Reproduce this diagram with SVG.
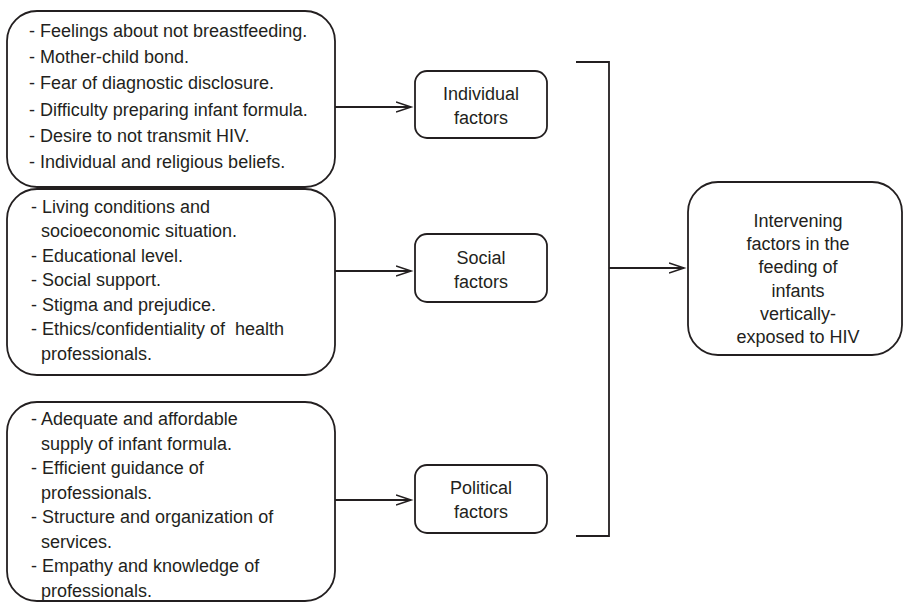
<svg xmlns="http://www.w3.org/2000/svg" width="904" height="603" viewBox="0 0 904 603">
<defs>
<marker id="arr" markerWidth="18" markerHeight="12" refX="15" refY="6" orient="auto" markerUnits="userSpaceOnUse">
<path d="M0,1 L15,6 L0,11" fill="none" stroke="#231f20" stroke-width="1.6"/>
</marker>
</defs>
<style>
.box{fill:#fff;stroke:#231f20;stroke-width:1.8}
.t{font-family:"Liberation Sans",Arial,sans-serif;font-size:18px;fill:#231f20}
.c{text-anchor:middle}
.ln{fill:none;stroke:#231f20;stroke-width:1.8}
.pre{white-space:pre}
</style>
<rect width="904" height="603" fill="#fff"/>
<g id="list-individual">
<rect class="box" x="7" y="11" width="328" height="176" rx="30"/>
<text class="t" x="29" y="37">- Feelings about not breastfeeding.</text>
<text class="t" x="29" y="63">- Mother-child bond.</text>
<text class="t" x="29" y="89">- Fear of diagnostic disclosure.</text>
<text class="t" x="29" y="116">- Difficulty preparing infant formula.</text>
<text class="t" x="29" y="142">- Desire to not transmit HIV.</text>
<text class="t" x="29" y="168">- Individual and religious beliefs.</text>
</g>
<g id="list-social">
<rect class="box" x="7" y="189" width="328" height="186" rx="30"/>
<text class="t" x="31" y="213">- Living conditions and</text>
<text class="t" x="41" y="237">socioeconomic situation.</text>
<text class="t" x="31" y="262">- Educational level.</text>
<text class="t" x="31" y="286">- Social support.</text>
<text class="t" x="31" y="311">- Stigma and prejudice.</text>
<text class="t pre" x="31" y="335" xml:space="preserve">- Ethics/confidentiality of  health</text>
<text class="t" x="41" y="360">professionals.</text>
</g>
<g id="list-political">
<rect class="box" x="7" y="402" width="328" height="199" rx="30"/>
<text class="t" x="31" y="425">- Adequate and affordable</text>
<text class="t" x="41" y="450">supply of infant formula.</text>
<text class="t" x="31" y="474">- Efficient guidance of</text>
<text class="t" x="41" y="499">professionals.</text>
<text class="t" x="31" y="523">- Structure and organization of</text>
<text class="t" x="41" y="548">services.</text>
<text class="t" x="31" y="572">- Empathy and knowledge of</text>
<text class="t" x="41" y="597">professionals.</text>
</g>
<g id="individual-factors">
<rect class="box" x="415" y="71" width="132" height="67" rx="12"/>
<text class="t c" x="481" y="100">Individual</text>
<text class="t c" x="481" y="124">factors</text>
</g>
<g id="social-factors">
<rect class="box" x="415" y="234" width="132" height="68" rx="12"/>
<text class="t c" x="481" y="264">Social</text>
<text class="t c" x="481" y="288">factors</text>
</g>
<g id="political-factors">
<rect class="box" x="415" y="465" width="132" height="68" rx="12"/>
<text class="t c" x="481" y="494">Political</text>
<text class="t c" x="481" y="518">factors</text>
</g>
<g id="outcome">
<rect class="box" x="688" y="182" width="214" height="173" rx="30"/>
<text class="t c" x="798" y="227">Intervening</text>
<text class="t c" x="798" y="250">factors in the</text>
<text class="t c" x="798" y="273">feeding of</text>
<text class="t c" x="798" y="297">infants</text>
<text class="t c" x="798" y="320">vertically-</text>
<text class="t c" x="798" y="343">exposed to HIV</text>
</g>
<g id="connectors">
<line class="ln" x1="335" y1="107" x2="411" y2="107" marker-end="url(#arr)"/>
<line class="ln" x1="335" y1="271" x2="411" y2="271" marker-end="url(#arr)"/>
<line class="ln" x1="335" y1="500" x2="411" y2="500" marker-end="url(#arr)"/>
<polyline class="ln" points="576,62 609,62 609,536 576,536"/>
<line class="ln" x1="609" y1="268" x2="684" y2="268" marker-end="url(#arr)"/>
</g>
</svg>
